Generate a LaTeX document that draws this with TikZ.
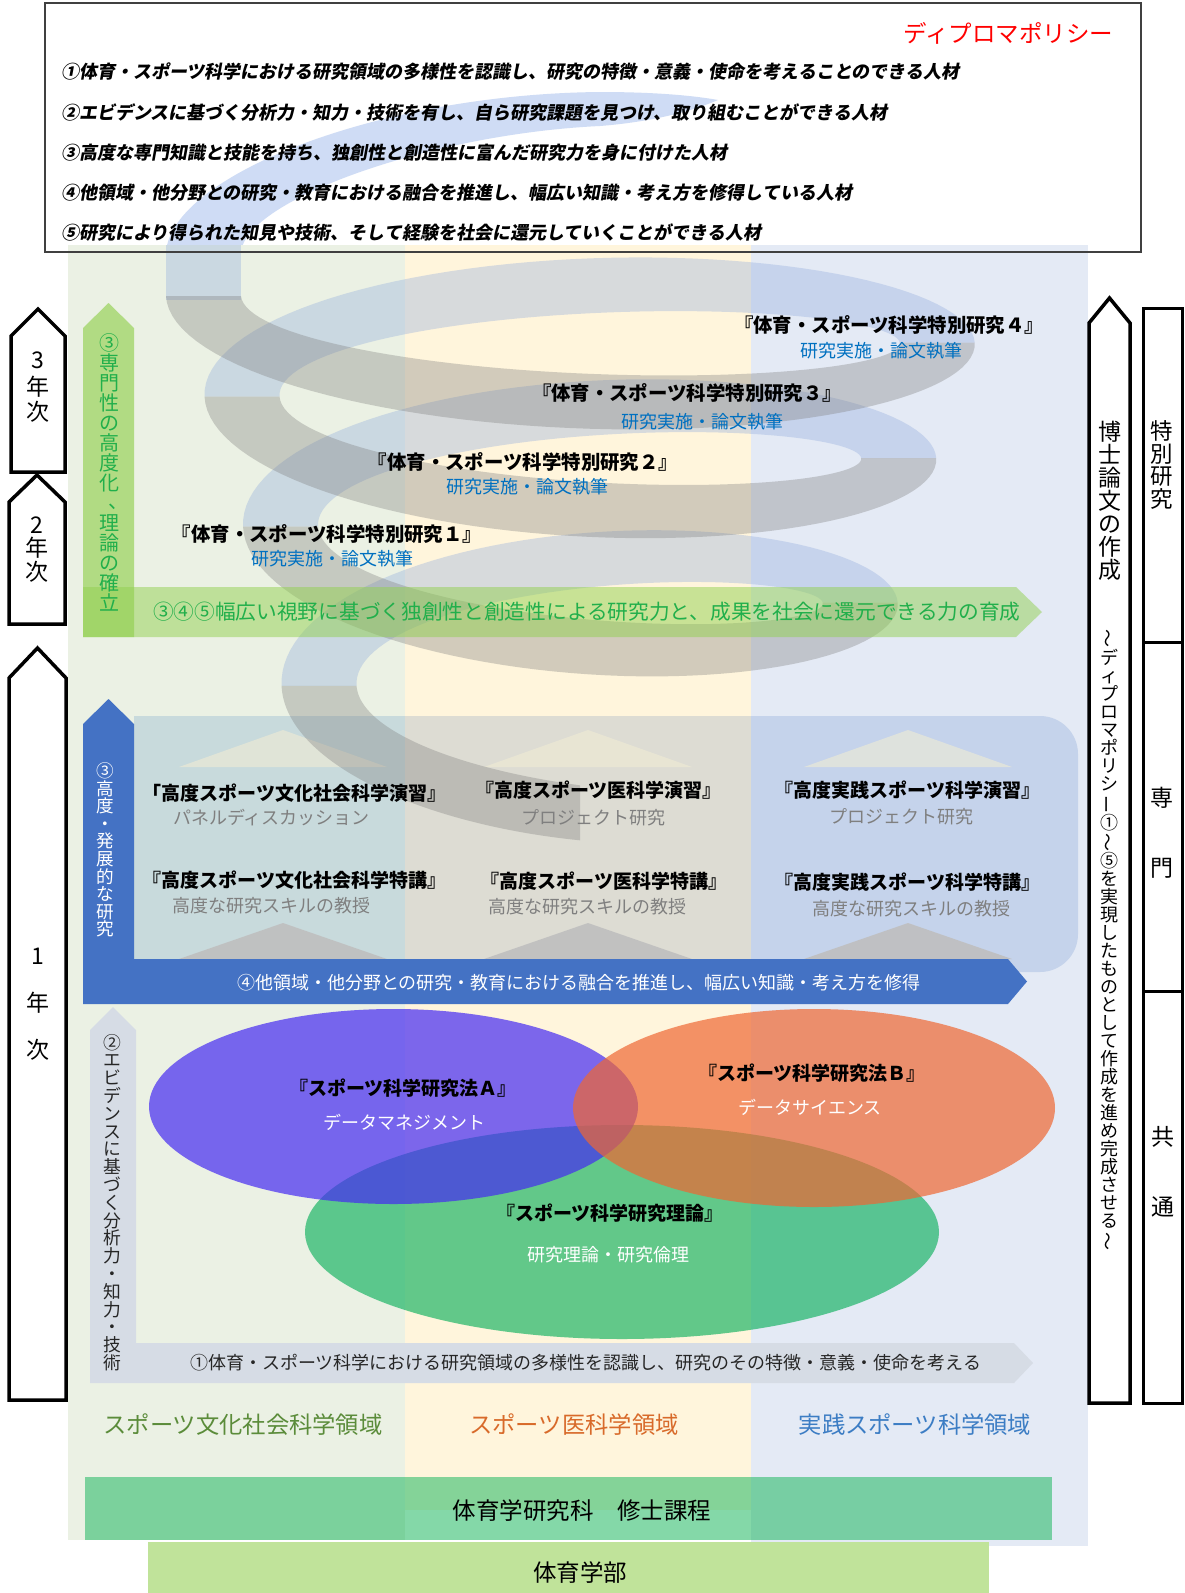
\documentclass[tikz,border=0pt]{standalone}
\usepackage{fontspec}
\usepackage{graphicx}
\setmainfont{Noto Sans CJK JP}
\newfontfamily\jpit{Noto Sans CJK JP}[FakeSlant=0.18]
\newcommand\fsz[1]{\fontsize{#1pt}{#1pt}\selectfont}
\newcommand\vbar{\rotatebox[origin=c]{90}{ー}}
\newcommand\vtil{\rotatebox[origin=c]{90}{～}}
\newcommand\vcom{\makebox[1em][l]{\hspace*{0.45em}\smash{\raisebox{0.12em}{、}}}}
\newcommand\spiralseg[3]{\fill[#3] plot[domain=#1:#2,samples=60,variable=\vv] ({580-Rh(\vv)*cos(\vv)},{Yh(\vv)+rh(\vv)*sin(\vv)}) -- plot[domain=#2:#1,samples=60,variable=\vv] ({580-(Rh(\vv)-75)*cos(\vv)},{Yh(\vv)+(rh(\vv)-55)*sin(\vv)}) -- cycle;}
\definecolor{colG}{HTML}{EBF1E4}
\definecolor{colY}{HTML}{FFF5DC}
\definecolor{colB}{HTML}{E4EAF5}
\definecolor{regG}{HTML}{C8DADC}
\definecolor{regY}{HTML}{DDDCD3}
\definecolor{regB}{HTML}{C5D3EB}
\definecolor{spBack}{HTML}{8FAADC}
\definecolor{spFront}{HTML}{7F7F7F}
\definecolor{topBand}{HTML}{CFDCF5}
\definecolor{arrG}{HTML}{92D050}
\definecolor{txtG}{HTML}{21AF4B}
\definecolor{arrB}{HTML}{4472C4}
\definecolor{arrGray}{HTML}{D6DCE5}
\definecolor{ellP}{RGB}{69,42,242}
\definecolor{ellO}{RGB}{238,103,51}
\definecolor{ellG}{RGB}{14,177,94}
\definecolor{barM}{RGB}{31,184,97}
\definecolor{barU}{HTML}{C0E39A}
\definecolor{subBlue}{HTML}{0070C0}
\definecolor{subGray}{HTML}{7F7F7F}
\definecolor{dpRed}{HTML}{FF0000}
\definecolor{lblG}{HTML}{5B8C3A}
\definecolor{lblO}{HTML}{D86A2A}
\definecolor{lblB}{HTML}{3C7DC4}
\definecolor{chevU}{RGB}{240,236,212}
\definecolor{chevL}{HTML}{BFBFBF}
\begin{document}
\begin{tikzpicture}[x=1pt,y=-1pt,
  declare function={Yh(\vv)=296+0.239*\vv+1.13*(\vv/100)*(\vv/100); Rh(\vv)=414-0.107*\vv; rh(\vv)=110+max(0,-0.8*\vv);},
  txt/.style={inner sep=0,outer sep=0,align=center},
  back/.style={fill=spBack,fill opacity=0.35},
  front/.style={fill=spFront,fill opacity=0.35},
  yeararrow/.style={draw=black,line width=3.5pt,fill=white,line join=miter},
  sidebox/.style={draw=black,line width=3pt,fill=white},
  ctitle/.style={txt,font={\fsz{19}\bfseries}},
  csub/.style={txt,font={\fsz{18}},text=subGray},
  stitle/.style={txt,font={\fsz{19.4}\bfseries}},
  ssub/.style={txt,font={\fsz{18}},text=subBlue},
  etitle/.style={txt,font={\fsz{19}\bfseries}},
  esub/.style={txt,font={\fsz{18}},text=white},
  boxline/.style={txt,anchor=west,font={\jpit\bfseries\fsz{18}}},
  vstack/.style={txt,align=center},
  yeartxt/.style={txt,font={\fsz{23}}},
  sidetxt/.style={txt,font={\fsz{23}}},
  domlabel/.style={txt,font={\fsz{23.3}}},
]
\useasboundingbox (0,0) rectangle (1184,1593);
% top box background
\fill[white] (45,3) rectangle (1141,252);
% spiral: top end, seen through the policy box (opaque, light)
\fill[topBand] (166,252) .. controls (172,175) and (380,94) .. (600,92) .. controls (650,92) and (690,95) .. (718,100) .. controls (690,112) and (650,122) .. (600,126) .. controls (430,134) and (246,200) .. (241,252) -- cycle;
% columns
\fill[colG] (68,245) rectangle (405,1540);
\fill[colY] (405,245) rectangle (751,1510);
\fill[colB] (751,245) rectangle (1088,1546);
% region of advanced courses
\fill[regG] (134,716) rectangle (405,972);
\fill[regY] (405,716) rectangle (751,972);
\fill[regB] (751,716) -- (1040,716) .. controls (1061,716) and (1078,733) .. (1078,754) -- (1078,934) .. controls (1078,955) and (1061,972) .. (1040,972) -- (751,972) -- cycle;
% chevrons
\foreach \cx in {283,588,908}{
  \fill[chevU,fill opacity=0.6] ({\cx-104},767) -- (\cx,730) -- ({\cx+104},767) -- cycle;
  \fill[chevL,fill opacity=0.9] ({\cx-104},959) -- (\cx,923) -- ({\cx+104},959) -- cycle;
}
% spiral lower end of top piece and turns
\fill[back] (166,245) -- (166,300) -- (241,300) -- (241,245) -- cycle;
\spiralseg{180}{360}{back}
\spiralseg{540}{720}{back}
\spiralseg{900}{1080}{back}
\spiralseg{0}{180}{front}
\spiralseg{360}{540}{front}
\spiralseg{720}{900}{front}
\spiralseg{1080}{1170}{front}
% top box frame
\draw[draw=black!75,line width=1.2pt] (45,3) rectangle (1141,252);
% green arrows
\fill[arrG,fill opacity=0.65] (83,637) -- (83,328) -- (108.5,303) -- (134,328) -- (134,637) -- cycle;
\fill[arrG,fill opacity=0.5] (83,587) -- (1016,587) -- (1042,612) -- (1016,637) -- (83,637) -- cycle;
% blue arrow
\fill[arrB] (83,1004) -- (83,724) -- (108.5,699) -- (134,724) -- (134,959) -- (1008,959) -- (1027,981.5) -- (1008,1004) -- cycle;
% gray arrow
\fill[arrGray] (90,1383) -- (90,1030) -- (113,1007) -- (136,1030) -- (136,1343) -- (1014,1343) -- (1033,1363) -- (1014,1383) -- cycle;
% ellipses
\fill[ellG,fill opacity=0.65] (622,1232) ellipse [x radius=317,y radius=107];
\fill[ellP,fill opacity=0.7] (393.5,1106.5) ellipse [x radius=244.5,y radius=97.5];
\fill[ellO,fill opacity=0.7] (814,1108) ellipse [x radius=241,y radius=99];
% bars
\fill[barM,fill opacity=0.55] (85,1477) rectangle (1052,1540);
\fill[barU] (148,1542) rectangle (989,1593);
% year arrows
\draw[yeararrow] (11,336) -- (38,309) -- (65,336) -- (65,472) -- (11,472) -- cycle;
\draw[yeararrow] (9,502) -- (37,475) -- (65,502) -- (65,624) -- (9,624) -- cycle;
\draw[yeararrow] (9,678) -- (37.5,648) -- (66,678) -- (66,1400) -- (9,1400) -- cycle;
% right arrow and boxes
\draw[yeararrow] (1089,323) -- (1109.5,298) -- (1130,323) -- (1130,1403) -- (1089,1403) -- cycle;
\draw[sidebox] (1143,308) rectangle (1182,642);
\draw[sidebox] (1143,642) rectangle (1182,991);
\draw[sidebox] (1143,991) rectangle (1182,1403);
% ---- texts ----
\node[txt,anchor=east,font={\fsz{23.5}},text=dpRed] (dptitle) at (1113,33) {ディプロマポリシー};
\node[boxline] (dp1) at (61,72) {①体育・スポーツ科学における研究領域の多様性を認識し、研究の特徴・意義・使命を考えることのできる人材};
\node[boxline] (dp2) at (61,113) {②エビデンスに基づく分析力・知力・技術を有し、自ら研究課題を見つけ、取り組むことができる人材};
\node[boxline] (dp3) at (61,153) {③高度な専門知識と技能を持ち、独創性と創造性に富んだ研究力を身に付けた人材};
\node[boxline] (dp4) at (61,193) {④他領域・他分野との研究・教育における融合を推進し、幅広い知識・考え方を修得している人材};
\node[boxline] (dp5) at (61,233) {⑤研究により得られた知見や技術、そして経験を社会に還元していくことができる人材};
% spiral texts
\node[stitle] (st4) at (889,325) {『体育・スポーツ科学特別研究４』};
\node[ssub] (ss4) at (881.6,351) {研究実施・論文執筆};
\node[stitle] (st3) at (687,393) {『体育・スポーツ科学特別研究３』};
\node[ssub] (ss3) at (702,422) {研究実施・論文執筆};
\node[stitle] (st2) at (523,462) {『体育・スポーツ科学特別研究２』};
\node[ssub] (ss2) at (527,487) {研究実施・論文執筆};
\node[stitle] (st1) at (327,534) {『体育・スポーツ科学特別研究１』};
\node[ssub] (ss1) at (332,559) {研究実施・論文執筆};
% course texts
\node[ctitle] (cG1) at (294.5,793) {「高度スポーツ文化社会科学演習』};
\node[csub] (cG1s) at (271.5,818) {パネルディスカッション};
\node[ctitle] (cG2) at (294.5,880) {『高度スポーツ文化社会科学特講』};
\node[csub] (cG2s) at (271.5,906) {高度な研究スキルの教授};
\node[ctitle] (cY1) at (598.5,790) {『高度スポーツ医科学演習』};
\node[csub] (cY1s) at (593,818) {プロジェクト研究};
\node[ctitle] (cY2) at (604,881) {『高度スポーツ医科学特講』};
\node[csub] (cY2s) at (587.5,907) {高度な研究スキルの教授};
\node[ctitle] (cB1) at (907.5,790) {『高度実践スポーツ科学演習』};
\node[csub] (cB1s) at (901,817) {プロジェクト研究};
\node[ctitle] (cB2) at (907.5,882) {『高度実践スポーツ科学特講』};
\node[csub] (cB2s) at (911,909) {高度な研究スキルの教授};
% ellipse texts
\node[etitle] (eA) at (403,1088) {『スポーツ科学研究法Ａ』};
\node[esub] (eAs) at (404,1122) {データマネジメント};
\node[etitle] (eB) at (812,1073) {『スポーツ科学研究法Ｂ』};
\node[esub] (eBs) at (810,1107) {データサイエンス};
\node[etitle] (eT) at (610,1213) {『スポーツ科学研究理論』};
\node[esub] (eTs) at (608,1255) {研究理論・研究倫理};
% arrow texts
\node[txt,anchor=west,font={\fsz{20.7}},text=txtG] (hg) at (153,612) {③④⑤幅広い視野に基づく独創性と創造性による研究力と、成果を社会に還元できる力の育成};
\node[txt,anchor=west,font={\fsz{18}},text=white] (hb) at (237,983) {④他領域・他分野との研究・教育における融合を推進し、幅広い知識・考え方を修得};
\node[txt,anchor=west,font={\fsz{18}},text=black!85] (hgr) at (190,1363) {①体育・スポーツ科学における研究領域の多様性を認識し、研究のその特徴・意義・使命を考える};
\node[vstack,font={\fsz{20}},text=txtG] (vg) at (109,472.5) {③\\専\\門\\性\\の\\高\\度\\化\\\vcom\\理\\論\\の\\確\\立};
\node[vstack,font={\fsz{17.6}},text=white] (vb) at (105,850) {③\\高\\度\\・\\発\\展\\的\\な\\研\\究};
\node[vstack,font={\fsz{17.8}},text=black!85] (vgr) at (112,1202.5) {②\\エ\\ビ\\デ\\ン\\ス\\に\\基\\づ\\く\\分\\析\\力\\・\\知\\力\\・\\技\\術};
% right texts
\node[vstack,font={\fsz{23}}] (vd1) at (1109.5,501) {博\\士\\論\\文\\の\\作\\成};
\node[vstack,font={\fsz{18}}] (vd2) at (1109.5,940) {\vtil\\デ\\ィ\\プ\\ロ\\マ\\ポ\\リ\\シ\\\vbar\\①\\\vtil\\⑤\\を\\実\\現\\し\\た\\も\\の\\と\\し\\て\\作\\成\\を\\進\\め\\完\\成\\さ\\せ\\る\\\vtil};
\node[vstack,font={\fsz{22.5}}] (sp1) at (1162,465) {特\\別\\研\\究};
\node[sidetxt] (sp2a) at (1162,798) {専};
\node[sidetxt] (sp2b) at (1162,868) {門};
\node[sidetxt] (sp3a) at (1163,1137) {共};
\node[sidetxt] (sp3b) at (1163,1207) {通};
% year texts
\node[yeartxt] (y3a) at (38,360) {3};
\node[yeartxt] (y3b) at (38,387) {年};
\node[yeartxt] (y3c) at (38,412) {次};
\node[yeartxt] (y2a) at (37,525) {2};
\node[yeartxt] (y2b) at (37,548) {年};
\node[yeartxt] (y2c) at (37,572) {次};
\node[yeartxt] (y1a) at (38,956) {1};
\node[yeartxt] (y1b) at (38,1003) {年};
\node[yeartxt] (y1c) at (38,1050) {次};
% domain labels
\node[domlabel,text=lblG] (dl1) at (243,1425) {スポーツ文化社会科学領域};
\node[domlabel,text=lblO] (dl2) at (574,1425) {スポーツ医科学領域};
\node[domlabel,text=lblB] (dl3) at (915,1425) {実践スポーツ科学領域};
% bars text
\node[txt,font={\fsz{23.5}}] (bm) at (582,1511) {体育学研究科　修士課程};
\node[txt,font={\fsz{23.5}}] (bu) at (580,1573) {体育学部};
\end{tikzpicture}
\end{document}
